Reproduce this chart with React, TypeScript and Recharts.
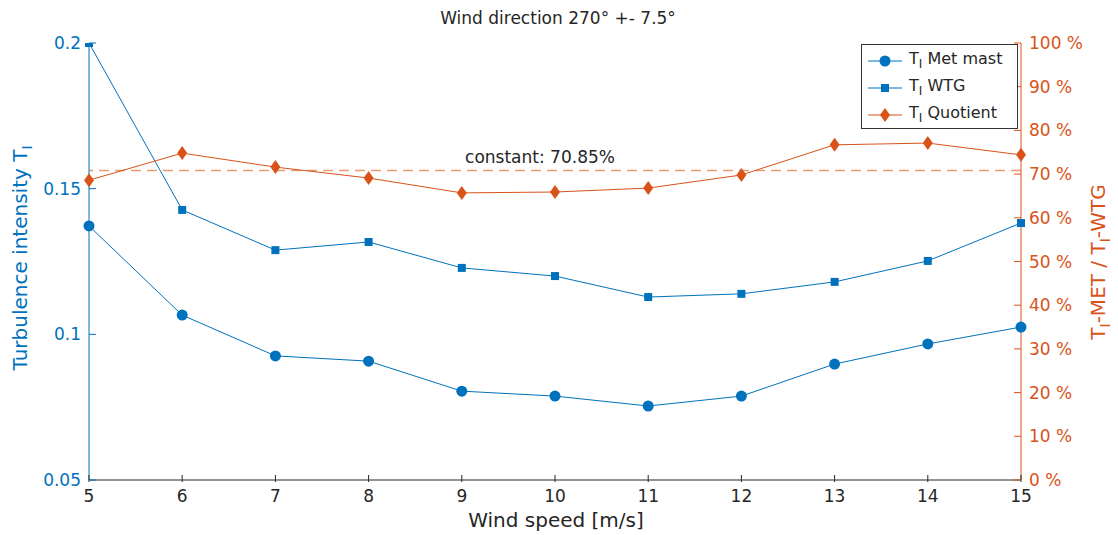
import {
    ComposedChart,
    Line,
    XAxis,
    YAxis,
    ReferenceLine,
} from "recharts";

const windSpeed = [5, 6, 7, 8, 9, 10, 11, 12, 13, 14, 15];
const tiMetMast = [0.1372, 0.1066, 0.0926, 0.0908, 0.0805, 0.0788, 0.0754, 0.0788, 0.0898, 0.0967, 0.1025];
const tiWtg = [0.2, 0.1427, 0.1289, 0.1317, 0.1228, 0.12, 0.1128, 0.1139, 0.118, 0.1252, 0.1382];
const tiQuotient = [68.6, 74.8, 71.6, 69.1, 65.7, 65.9, 66.8, 69.8, 76.7, 77.1, 74.4];
const constantQuotient = 70.85;

const xTicks = [5, 6, 7, 8, 9, 10, 11, 12, 13, 14, 15];
const leftTicks = [0.05, 0.1, 0.15, 0.2];
const rightTicks = [0, 10, 20, 30, 40, 50, 60, 70, 80, 90, 100];

const data = windSpeed.map((ws, i) => ({
    ws,
    met: tiMetMast[i],
    wtg: tiWtg[i],
    quot: tiQuotient[i],
}));

const BLUE = "#0072BD";
const ORANGE = "#D95319";
const DARK = "#262626";
const FONT = "'DejaVu Sans', Verdana, sans-serif";
const TICK_FONT = 17;

const BottomTick = (props: any) => {
    const { x, y, payload } = props;
    return (
        <g>
            <line x1={x} x2={x} y1={y - 8} y2={y - 15} stroke={DARK} />
            <text x={x} y={y} dy="0.71em" textAnchor="middle" fill={DARK} fontSize={TICK_FONT}>
                {payload.value}
            </text>
        </g>
    );
};

const TopTick = (props: any) => {
    const { x, y } = props;
    return <line x1={x} x2={x} y1={y + 8} y2={y + 15} stroke={DARK} />;
};

const LeftTick = (props: any) => {
    const { x, y, payload } = props;
    return (
        <g>
            <line x1={x + 8} x2={x + 15} y1={y} y2={y} stroke={BLUE} />
            <text x={x} y={y} dy="0.355em" textAnchor="end" fill={BLUE} fontSize={TICK_FONT}>
                {payload.value}
            </text>
        </g>
    );
};

const RightTick = (props: any) => {
    const { x, y, payload } = props;
    return (
        <g>
            <line x1={x - 8} x2={x - 15} y1={y} y2={y} stroke={ORANGE} />
            <text x={x} y={y} dy="0.355em" textAnchor="start" fill={ORANGE} fontSize={TICK_FONT}>
                {payload.value} %
            </text>
        </g>
    );
};

const CircleDot = (props: any) => {
    const { cx, cy, index } = props;
    return <circle key={index} cx={cx} cy={cy} r={5.5} fill={BLUE} />;
};

const SquareDot = (props: any) => {
    const { cx, cy, index } = props;
    return <rect key={index} x={cx - 4} y={cy - 4} width={8} height={8} fill={BLUE} />;
};

const DiamondDot = (props: any) => {
    const { cx, cy, index } = props;
    return (
        <polygon
            key={index}
            points={`${cx},${cy - 7} ${cx + 5},${cy} ${cx},${cy + 7} ${cx - 5},${cy}`}
            fill={ORANGE}
        />
    );
};

function LegendRow({ color, marker, label }: { color: string; marker: string; label: string }) {
    return (
        <div style={{ display: "flex", alignItems: "center", height: 27 }}>
            <svg width={40} height={20}>
                <line x1={4} x2={38} y1={10} y2={10} stroke={color} />
                {marker === "circle" && <circle cx={21} cy={10} r={5.5} fill={color} />}
                {marker === "square" && <rect x={17} y={6} width={8} height={8} fill={color} />}
                {marker === "diamond" && <polygon points="21,3 26,10 21,17 16,10" fill={color} />}
            </svg>
            <span style={{ marginLeft: 5, fontSize: 16, color: DARK, whiteSpace: "nowrap" }}>
                T<sub style={{ fontSize: 12 }}>I</sub> {label}
            </span>
        </div>
    );
}

export default function App() {
    return (
        <div style={{ position: "absolute", left: 0, top: 0, width: 1118, height: 535, fontFamily: FONT, background: "#fff" }}>
            <ComposedChart
                width={1118}
                height={535}
                data={data}
                margin={{ top: 43, right: 0, bottom: 0, left: 0 }}
                style={{ fontFamily: FONT }}
            >
                <XAxis
                    dataKey="ws"
                    type="number"
                    domain={[5, 15]}
                    ticks={xTicks}
                    height={55}
                    tickSize={0}
                    tickMargin={10}
                    tick={<BottomTick />}
                    axisLine={{ stroke: DARK }}
                    tickLine={false}
                />
                <XAxis
                    xAxisId="top"
                    orientation="top"
                    dataKey="ws"
                    type="number"
                    domain={[5, 15]}
                    ticks={xTicks}
                    height={0}
                    tickSize={0}
                    tickMargin={8}
                    tick={<TopTick />}
                    axisLine={{ stroke: DARK }}
                    tickLine={false}
                />
                <YAxis
                    yAxisId="left"
                    domain={[0.05, 0.2]}
                    ticks={leftTicks}
                    width={89}
                    tickSize={0}
                    tickMargin={8}
                    tick={<LeftTick />}
                    axisLine={{ stroke: BLUE }}
                    tickLine={false}
                    allowDataOverflow
                />
                <YAxis
                    yAxisId="right"
                    orientation="right"
                    domain={[0, 100]}
                    ticks={rightTicks}
                    width={97}
                    tickSize={0}
                    tickMargin={8}
                    tick={<RightTick />}
                    axisLine={{ stroke: ORANGE }}
                    tickLine={false}
                    allowDataOverflow
                />
                <ReferenceLine
                    yAxisId="right"
                    y={constantQuotient}
                    stroke="#EE9A74"
                    strokeWidth={1.5}
                    strokeDasharray="10 6"
                    label={{ value: `constant: ${constantQuotient}%`, position: "top", offset: 7, fill: DARK, fontSize: 17, dx: -15 }}
                />
                <Line yAxisId="left" dataKey="met" stroke={BLUE} strokeWidth={1} dot={CircleDot} isAnimationActive={false} />
                <Line yAxisId="left" dataKey="wtg" stroke={BLUE} strokeWidth={1} dot={SquareDot} isAnimationActive={false} />
                <Line yAxisId="right" dataKey="quot" stroke={ORANGE} strokeWidth={1} dot={DiamondDot} isAnimationActive={false} />
            </ComposedChart>

            <div style={{ position: "absolute", left: 558, top: 8, transform: "translateX(-50%)", fontSize: 17, color: DARK, whiteSpace: "nowrap" }}>
                Wind direction 270° +- 7.5°
            </div>
            <div style={{ position: "absolute", left: 556, top: 508, transform: "translateX(-50%)", fontSize: 20, color: DARK, whiteSpace: "nowrap" }}>
                Wind speed [m/s]
            </div>
            <div style={{ position: "absolute", left: 21, top: 258, transform: "translate(-50%, -50%) rotate(-90deg)", fontSize: 20, color: BLUE, whiteSpace: "nowrap" }}>
                Turbulence intensity T<sub style={{ fontSize: 14 }}>I</sub>
            </div>
            <div style={{ position: "absolute", left: 1099, top: 262, transform: "translate(-50%, -50%) rotate(-90deg)", fontSize: 20, color: ORANGE, whiteSpace: "nowrap" }}>
                T<sub style={{ fontSize: 14 }}>I</sub>-MET / T<sub style={{ fontSize: 14 }}>I</sub>-WTG
            </div>

            <div style={{ position: "absolute", left: 861, top: 44, width: 157, height: 85, border: "1px solid #333", background: "#fff", boxSizing: "border-box", padding: "2px 0 0 2px" }}>
                <LegendRow color={BLUE} marker="circle" label="Met mast" />
                <LegendRow color={BLUE} marker="square" label="WTG" />
                <LegendRow color={ORANGE} marker="diamond" label="Quotient" />
            </div>
        </div>
    );
}
